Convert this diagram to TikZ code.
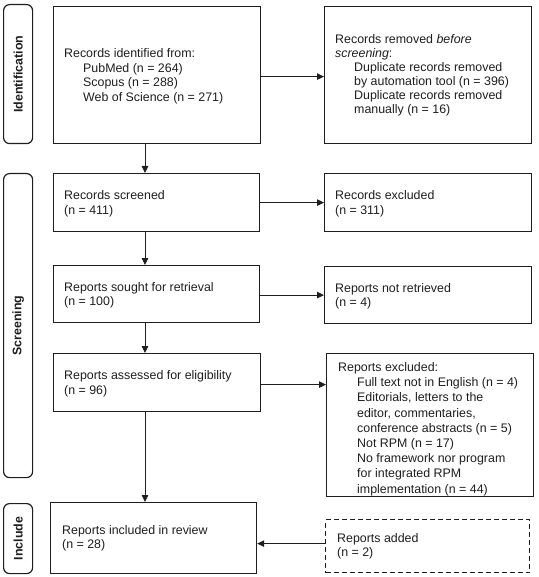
\documentclass[tikz,border=0pt]{standalone}
\usepackage{fontspec}
\setmainfont{Liberation Sans}
\usetikzlibrary{arrows.meta,calc}
\definecolor{ink}{RGB}{30,30,30}
\tikzset{
  box/.style={draw=ink, line width=1.2pt, anchor=north west, inner sep=0pt},
  txt/.style={anchor=west, font=\fontsize{12.4}{14.6}\selectfont, text=ink, align=left, inner sep=0pt},
  side/.style={draw=ink, line width=1.2pt, rounded corners=6pt, anchor=north west, inner sep=0pt},
  sidelabel/.style={rotate=90, font=\fontsize{12.4}{14}\selectfont\bfseries, text=ink},
  arr/.style={draw=ink, line width=0.8pt, -{Triangle[length=7pt,width=6.5pt]}},
}
\newcommand{\ind}{\hspace*{19pt}}
\begin{document}
\begin{tikzpicture}[x=1pt,y=-1pt]
\path[use as bounding box] (0,0) rectangle (538,577);
% side labels
\node[side, minimum width=29pt, minimum height=139pt] (sid) at (3,4) {};
\node[sidelabel] at (sid.center) {Identification};
\node[side, minimum width=29pt, minimum height=304pt] (sscr) at (3,173) {};
\node[sidelabel] at (sscr.center) {Screening};
\node[side, minimum width=29pt, minimum height=70pt] (sinc) at (3,503) {};
\node[sidelabel] at (sinc.center) {Include};
% boxes
\node[box, minimum width=207pt, minimum height=137pt] (id) at (53,6) {};
\node[txt] at ([xshift=11pt,yshift=-1pt]id.west)
 {Records identified from:\\\ind PubMed (n = 264)\\\ind Scopus (n = 288)\\\ind Web of Science (n = 271)};
\node[box, minimum width=207pt, minimum height=137pt] (rem) at (324,6) {};
\node[txt, font=\fontsize{12.4}{14}\selectfont] at ([xshift=11pt]rem.west)
 {Records removed \textit{before}\\\textit{screening}:\\\ind Duplicate records removed\\\ind by automation tool (n = 396)\\\ind Duplicate records removed\\\ind manually (n = 16)};
\node[box, minimum width=206pt, minimum height=58pt] (scr) at (53,173) {};
\node[txt] at ([xshift=11pt,yshift=-1pt]scr.west)
 {Records screened\\(n = 411)};
\node[box, minimum width=207pt, minimum height=58pt] (exc) at (324,173) {};
\node[txt] at ([xshift=11pt,yshift=-1pt]exc.west)
 {Records excluded\\(n = 311)};
\node[box, minimum width=206pt, minimum height=57pt] (sought) at (53,265) {};
\node[txt] at ([xshift=11pt,yshift=-1pt]sought.west)
 {Reports sought for retrieval\\(n = 100)};
\node[box, minimum width=207pt, minimum height=57pt] (notret) at (324,266) {};
\node[txt] at ([xshift=11pt,yshift=-1pt]notret.west)
 {Reports not retrieved\\(n = 4)};
\node[box, minimum width=207pt, minimum height=58pt] (assess) at (53,353) {};
\node[txt] at ([xshift=11pt,yshift=-1pt]assess.west)
 {Reports assessed for eligibility\\(n = 96)};
\node[box, minimum width=207pt, minimum height=143pt] (repexc) at (326,353) {};
\node[txt, font=\fontsize{12.4}{15.2}\selectfont] at ([xshift=12pt,yshift=-4pt]repexc.west)
 {Reports excluded:\\\ind Full text not in English (n = 4)\\\ind Editorials, letters to the\\\ind editor, commentaries,\\\ind conference abstracts (n = 5)\\\ind Not RPM (n = 17)\\\ind No framework nor program\\\ind for integrated RPM\\\ind implementation (n = 44)};
\node[box, minimum width=206pt, minimum height=71pt] (incl) at (50,502) {};
\node[txt] at ([xshift=12pt]incl.west)
 {Reports included in review\\(n = 28)};
\node[box, dashed, dash pattern=on 5pt off 3pt, minimum width=204pt, minimum height=53pt] (added) at (325,519) {};
\node[txt] at ([xshift=12pt]added.west)
 {Reports added\\(n = 2)};
% arrows
\draw[arr] ([xshift=92pt]id.south west) -- ([xshift=92pt]scr.north west);
\draw[arr] ([xshift=92pt]scr.south west) -- ([xshift=92pt]sought.north west);
\draw[arr] ([xshift=92pt]sought.south west) -- ([xshift=92pt]assess.north west);
\draw[arr] ([xshift=92pt]assess.south west) -- ([xshift=95pt]incl.north west);
\draw[arr] ([yshift=-1.5pt]id.east) -- ([yshift=-1.5pt]id.east -| rem.west);
\draw[arr] (scr.east) -- (scr.east -| exc.west);
\draw[arr] ([yshift=-1pt]sought.east) -- ([yshift=-1pt]sought.east -| notret.west);
\draw[arr] ([yshift=-2pt]assess.east) -- ([yshift=-2pt]assess.east -| repexc.west);
\draw[arr] ([yshift=2.5pt]added.west) -- ([yshift=2.5pt]added.west -| incl.east);
\end{tikzpicture}
\end{document}
